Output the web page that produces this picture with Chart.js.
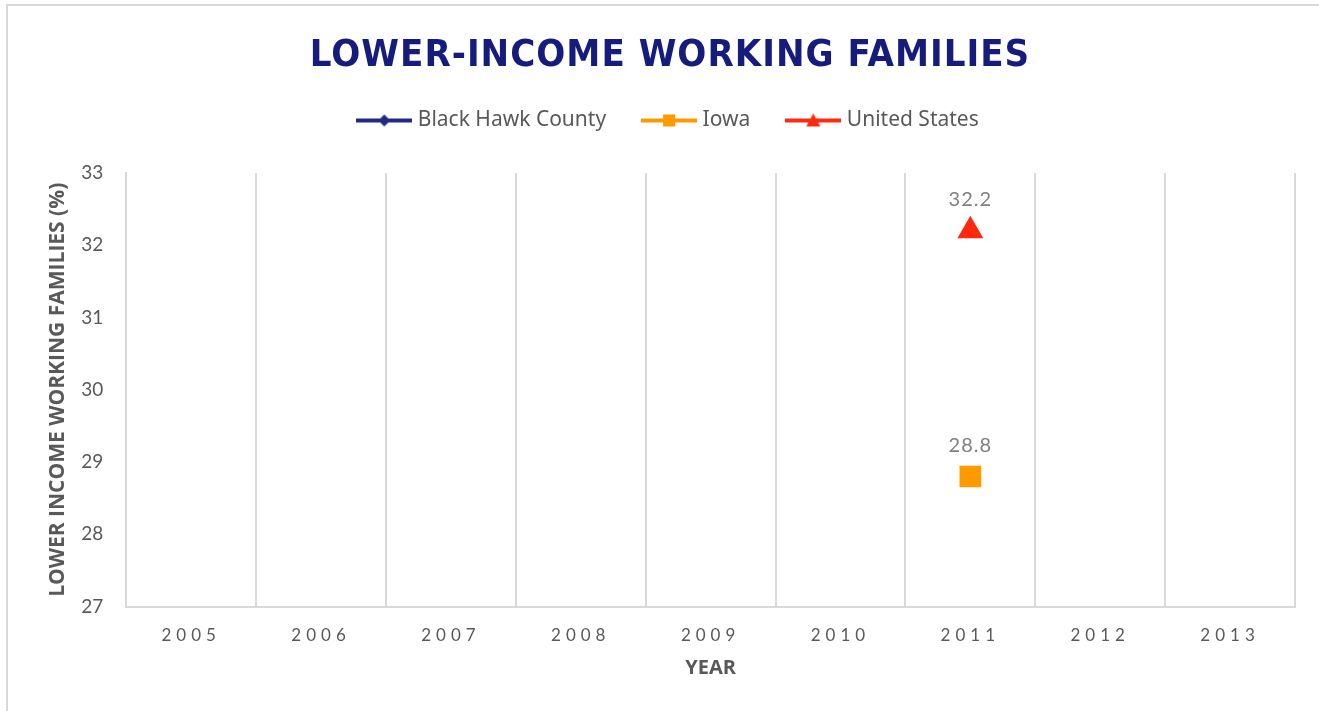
<!DOCTYPE html>
<html>
<head>
<meta charset="utf-8">
<script src="https://cdn.jsdelivr.net/npm/chart.js@4/dist/chart.umd.min.js"></script>
<style>
  html, body { margin: 0; padding: 0; background: #fff; overflow: hidden; }
  #frame { position: absolute; left: 6px; top: 4px; width: 1400px; height: 800px; border: 2px solid #d9d9d9; }
  #chart { position: absolute; left: 0; top: 0; }
</style>
</head>
<body>
<div id="frame"></div>
<canvas id="chart" width="1319" height="711"></canvas>
<script>
// categories and series
const years = ['2005', '2006', '2007', '2008', '2009', '2010', '2011', '2012', '2013'];
const blackHawk = [null, null, null, null, null, null, null, null, null];
const iowa = [null, null, null, null, null, null, 28.8, null, null];
const unitedStates = [null, null, null, null, null, null, 32.2, null, null];
const yTicks = [27, 28, 29, 30, 31, 32, 33];

const navy = '#1f2a85';
const orange = '#ff9900';
const red = '#ff2a0d';
const grey = '#595959';

// legend icon: line with the marker in the middle
function legendIcon(color, shape) {
  const c = document.createElement('canvas');
  c.width = 56; c.height = 20;
  const g = c.getContext('2d');
  g.strokeStyle = color; g.lineWidth = 4;
  g.beginPath(); g.moveTo(0, 10); g.lineTo(56, 10); g.stroke();
  g.fillStyle = color;
  g.beginPath();
  if (shape === 'diamond') {
    g.moveTo(28, 4); g.lineTo(34, 10); g.lineTo(28, 16); g.lineTo(22, 10);
  } else if (shape === 'square') {
    g.rect(22, 4, 12, 12);
  } else {
    g.moveTo(28, 3); g.lineTo(35, 16); g.lineTo(21, 16);
  }
  g.closePath(); g.fill();
  return c;
}
const icons = [legendIcon(navy, 'diamond'), legendIcon(orange, 'square'), legendIcon(red, 'triangle')];

// letter spacing for the title and year labels
function spaced(obj, fn, sp) {
  if (!obj || obj['_sp_' + fn]) return;
  const orig = obj[fn];
  obj[fn] = function () {
    this.ctx.save();
    this.ctx.letterSpacing = sp;
    orig.apply(this, arguments);
    this.ctx.restore();
  };
  obj['_sp_' + fn] = true;
}
const spacingPlugin = {
  id: 'spacing',
  beforeDraw(chart) {
    spaced(chart.titleBlock, 'draw', '1px');
    spaced(chart.scales.x, 'drawLabels', '5px');
  }
};

// value labels above the points
const valueLabels = {
  id: 'valueLabels',
  afterDatasetsDraw(chart) {
    const ctx = chart.ctx;
    ctx.save();
    ctx.font = '20px Lato, sans-serif';
    ctx.letterSpacing = '1px';
    ctx.fillStyle = '#7f7f7f';
    ctx.textAlign = 'center';
    ctx.textBaseline = 'middle';
    chart.data.datasets.forEach((ds, i) => {
      chart.getDatasetMeta(i).data.forEach((pt, j) => {
        const v = ds.data[j];
        if (v === null || v === undefined) return;
        ctx.fillText(v.toFixed(1), pt.x, pt.y - 31);
      });
    });
    ctx.restore();
  }
};

new Chart(document.getElementById('chart'), {
  type: 'line',
  data: {
    labels: years,
    datasets: [
      { label: 'Black Hawk County', data: blackHawk, borderColor: navy, backgroundColor: navy,
        borderWidth: 4, pointStyle: 'rectRot', pointRadius: 8 },
      { label: 'Iowa', data: iowa, borderColor: orange, backgroundColor: orange,
        borderWidth: 4, pointStyle: 'rect', pointRadius: 12.5 },
      { label: 'United States', data: unitedStates, borderColor: red, backgroundColor: red,
        borderWidth: 4, pointStyle: 'triangle', pointRadius: 11 }
    ]
  },
  options: {
    responsive: false,
    animation: false,
    layout: { padding: { left: 45, right: 24, top: 0, bottom: 31 } },
    plugins: {
      title: {
        display: true,
        text: 'LOWER-INCOME WORKING FAMILIES',
        color: '#161c7c',
        font: { family: "'Liberation Sans Narrow', 'DejaVu Sans Condensed', sans-serif", size: 38, weight: 'bold', lineHeight: 1.2 },
        padding: { top: 33, bottom: -8.6 }
      },
      subtitle: {
        display: true,
        text: '',
        position: 'top',
        weight: 500,
        font: { size: 1, lineHeight: 1 },
        padding: { top: 31, bottom: 0 }
      },
      legend: {
        position: 'top',
        labels: {
          usePointStyle: true,
          pointStyleWidth: 46,
          padding: 40,
          color: grey,
          font: { family: "'Noto Sans', sans-serif", size: 21 },
          generateLabels(chart) {
            const items = Chart.defaults.plugins.legend.labels.generateLabels(chart);
            items.forEach((it, i) => { it.pointStyle = icons[i]; });
            return items;
          }
        }
      },
      tooltip: { enabled: false }
    },
    scales: {
      x: {
        offset: true,
        grid: { offset: true, color: '#d9d9d9', lineWidth: 2, drawTicks: false },
        border: { color: '#d9d9d9', width: 2 },
        ticks: { color: grey, padding: 19, font: { family: 'Lato, sans-serif', size: 17 } },
        title: { display: true, text: 'YEAR', color: grey,
          font: { family: "'Open Sans', sans-serif", size: 20, weight: 'bold', lineHeight: 1.2 },
          padding: { top: -9, bottom: 0 } }
      },
      y: {
        min: yTicks[0],
        max: yTicks[yTicks.length - 1],
        afterBuildTicks(scale) { scale.ticks = yTicks.map(v => ({ value: v })); },
        grid: { display: false, drawTicks: false },
        border: { color: '#d9d9d9', width: 2 },
        ticks: { color: grey, padding: 23, font: { family: 'Lato, sans-serif', size: 19 } },
        title: { display: true, text: 'LOWER INCOME WORKING FAMILIES (%)', color: grey,
          font: { family: "'Open Sans', sans-serif", size: 21, weight: 'bold', lineHeight: 1.2 },
          padding: { top: 0, bottom: -12 } }
      }
    }
  },
  plugins: [spacingPlugin, valueLabels]
});
</script>
</body>
</html>
